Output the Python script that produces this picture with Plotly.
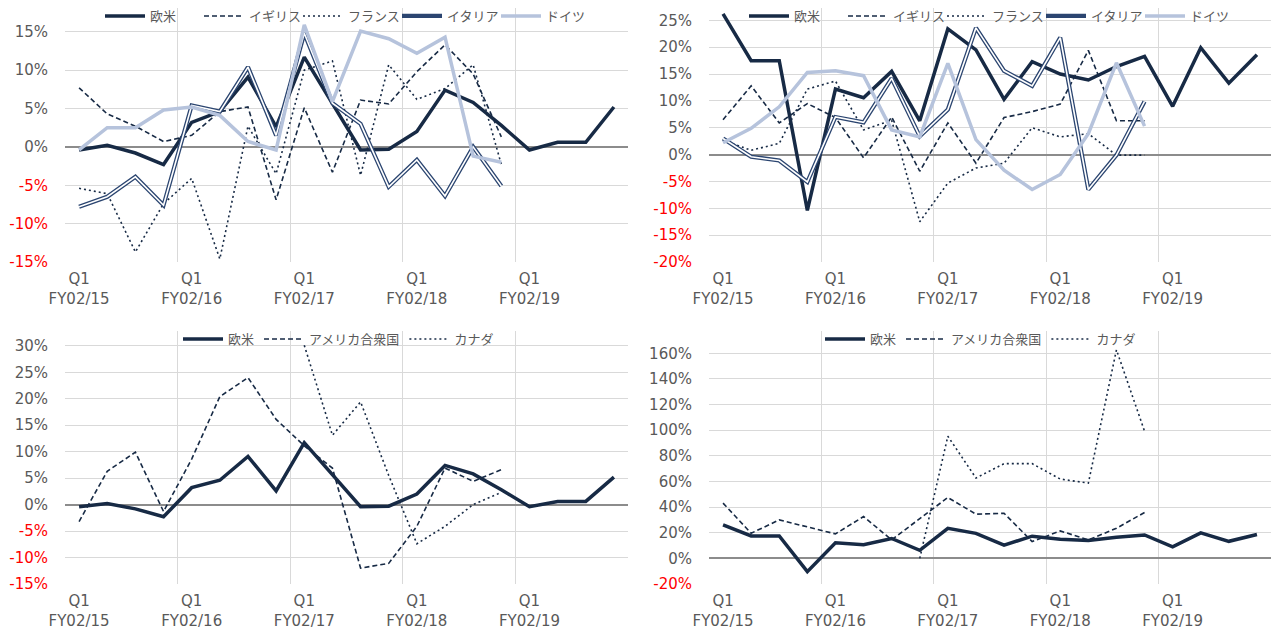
import plotly.graph_objects as go

# 四半期 (20 quarters, Q1 FY02/15 .. Q4 FY02/19)
quarters = list(range(20))
year_ticks = [0, 4, 8, 12, 16]
year_labels = ["Q1<br>FY02/15", "Q1<br>FY02/16", "Q1<br>FY02/17", "Q1<br>FY02/18", "Q1<br>FY02/19"]
N = None

# 左上: 欧州 (%)
ou_tl = [-0.4, 0.2, -0.8, -2.3, 3.2, 4.6, 9.1, 2.6, 11.7, 5.7, -0.4, -0.3, 2.0, 7.4, 5.8, 2.8, -0.4, 0.6, 0.6, 5.2]
uk_tl = [7.7, 4.3, 2.7, 0.7, 1.5, 4.6, 5.2, -6.9, 5.1, -3.3, 6.1, 5.6, 9.8, 13.3, 9.5, 1.3]
fr_tl = [-5.4, -6.1, -13.7, -7.4, -4.1, -14.6, 2.7, -3.5, 10.0, 11.2, -3.7, 10.7, 6.2, 7.6, 10.7, -2.3]
it_tl = [-7.8, -6.5, -3.9, -7.6, 5.4, 4.6, 10.4, 1.5, 14.8, 5.7, 3.0, -5.2, -1.7, -6.4, 0.0, -5.1]
de_tl = [-0.4, 2.5, 2.5, 4.8, 5.2, 4.1, 0.7, -0.4, 15.9, 5.9, 15.1, 14.1, 12.2, 14.3, -1.2, -2.0]

# 右上 (%)
ou_tr = [26.2, 17.5, 17.5, -10.4, 12.2, 10.6, 15.5, 6.3, 23.4, 19.5, 10.3, 17.3, 15.0, 13.9, 16.4, 18.3, 9.0, 19.9, 13.3, 18.6]
uk_tr = [6.5, 12.8, 5.9, 9.5, 6.9, -0.6, 7.0, -3.1, 5.9, -1.6, 6.9, 8.0, 9.4, 19.4, 6.3, 6.3]
fr_tr = [2.7, 0.8, 2.1, 12.2, 13.7, 4.6, 6.4, -12.5, -5.3, -2.5, -1.6, 5.0, 3.3, 3.9, -0.1, -0.1]
it_tr = [3.0, -0.4, -1.1, -5.1, 7.0, 6.0, 14.2, 3.4, 8.4, 23.6, 15.6, 12.8, 21.8, -6.5, -0.1, 9.9]
de_tr = [2.2, 4.9, 8.9, 15.3, 15.6, 14.7, 4.6, 3.3, 17.0, 2.8, -2.9, -6.5, -3.7, 3.9, 17.1, 5.3]

# 左下: 北米 (%)
us_bl = [-3.2, 6.3, 9.9, -1.3, 8.6, 20.4, 24.0, 16.1, 11.1, 6.9, -12.0, -11.1, -4.1, 6.9, 4.4, 6.6]
ca_bl = [N, N, N, N, N, N, N, N, 30.1, 13.1, 19.4, 5.5, -7.4, -4.1, 0.0, 2.3]

# 右下 (%)
us_br = [43.1, 19.6, 30.0, 24.8, 19.1, 32.6, 14.4, 31.0, 47.5, 34.5, 35.2, 13.1, 21.4, 14.4, 23.5, 35.8]
ca_br = [N, N, N, N, N, N, N, 0.0, 95.3, 62.7, 73.9, 73.9, 61.9, 58.7, 162.7, 99.2]

NAVY = "#172A45"
LIGHT = "#B6C3DC"
GRID = "#D9D9D9"
GRAY = "#595959"
FONT = "DejaVu Sans"
JP = "Noto Sans CJK JP"

fig = go.Figure()


def add(y, name, ax, lg, style):
    xa, ya = ax
    common = dict(x=quarters[:len(y)], y=y, xaxis=xa, yaxis=ya, legend=lg,
                  mode="lines", hoverinfo="skip", connectgaps=False)
    if style == "thick":
        fig.add_trace(go.Scatter(name=name, line=dict(color=NAVY, width=3.5), **common))
    elif style == "dash":
        fig.add_trace(go.Scatter(name=name, line=dict(color=NAVY, width=1.6, dash="5px,3px"), **common))
    elif style == "dot":
        fig.add_trace(go.Scatter(name=name, line=dict(color=NAVY, width=1.6, dash="2px,3px"), **common))
    elif style == "double":
        # 二重線: 太い紺 + 細い白
        fig.add_trace(go.Scatter(name=name, line=dict(color="#2B4570", width=4.2), **common))
        fig.add_trace(go.Scatter(name=name, showlegend=False, line=dict(color="white", width=1.6), **common))
    elif style == "light":
        fig.add_trace(go.Scatter(name=name, line=dict(color=LIGHT, width=3.5), **common))


# 左上
add(ou_tl, "欧米", ("x", "y"), "legend", "thick")
add(uk_tl, "イギリス", ("x", "y"), "legend", "dash")
add(fr_tl, "フランス", ("x", "y"), "legend", "dot")
add(it_tl, "イタリア", ("x", "y"), "legend", "double")
add(de_tl, "ドイツ", ("x", "y"), "legend", "light")
# 右上
add(ou_tr, "欧米", ("x2", "y2"), "legend2", "thick")
add(uk_tr, "イギリス", ("x2", "y2"), "legend2", "dash")
add(fr_tr, "フランス", ("x2", "y2"), "legend2", "dot")
add(it_tr, "イタリア", ("x2", "y2"), "legend2", "double")
add(de_tr, "ドイツ", ("x2", "y2"), "legend2", "light")
# 左下
add(ou_tl, "欧米", ("x3", "y3"), "legend3", "thick")
add(us_bl, "アメリカ合衆国", ("x3", "y3"), "legend3", "dash")
add(ca_bl, "カナダ", ("x3", "y3"), "legend3", "dot")
# 右下
add(ou_tr, "欧米", ("x4", "y4"), "legend4", "thick")
add(us_br, "アメリカ合衆国", ("x4", "y4"), "legend4", "dash")
add(ca_br, "カナダ", ("x4", "y4"), "legend4", "dot")

W, H = 1272, 633
left_dom = [65 / W, 628 / W]
right_dom = [709 / W, 1271 / W]
top_dom = [1 - 262 / H, 1 - 8 / H]
bot_dom = [1 - 584 / H, 1 - 331 / H]


def xaxis(dom, anchor):
    return dict(domain=dom, anchor=anchor, range=[-0.5, 19.5], automargin=False,
                tickmode="array", tickvals=year_ticks, ticktext=year_labels,
                showgrid=False, zeroline=False, showline=False, ticks="",
                ticklabelstandoff=6,
                tickfont=dict(family=FONT, size=15, color=GRAY),
                minor=dict(tickmode="array", tickvals=[-0.5, 3.5, 7.5, 11.5, 15.5, 19.5],
                           showgrid=True, gridcolor=GRID, gridwidth=1.3, ticks=""))


def yaxis(dom, anchor, rng, vals):
    text = [f"<span style='color:#FF0000'>{v}%</span>" if v < 0 else f"{v}%" for v in vals]
    return dict(domain=dom, anchor=anchor, range=rng, tickmode="array", automargin=False,
                tickvals=vals, ticktext=text, showgrid=True, gridcolor=GRID, gridwidth=1.3,
                zeroline=True, zerolinecolor="#8C8C8C", zerolinewidth=1.5,
                showline=False, ticks="", ticklabelstandoff=16,
                tickfont=dict(family=FONT, size=15, color=GRAY))


def legend(x, yc, ew=0):
    return dict(orientation="h", x=x / W, y=1 - yc / H, xanchor="left", yanchor="middle",
                bgcolor="rgba(0,0,0,0)", font=dict(family=JP, size=13, color=GRAY),
                itemwidth=40, tracegroupgap=0, entrywidth=ew, entrywidthmode="pixels")


fig.update_layout(
    width=W, height=H,
    margin=dict(l=0, r=0, t=0, b=0, autoexpand=False),
    paper_bgcolor="white", plot_bgcolor="white",
    xaxis=xaxis(left_dom, "y"),
    yaxis=yaxis(top_dom, "x", [-15, 18.1], list(range(-15, 16, 5))),
    xaxis2=xaxis(right_dom, "y2"),
    yaxis2=yaxis(top_dom, "x2", [-20, 27.3], list(range(-20, 26, 5))),
    xaxis3=xaxis(left_dom, "y3"),
    yaxis3=yaxis(bot_dom, "x3", [-15, 32.8], list(range(-15, 31, 5))),
    xaxis4=xaxis(right_dom, "y4"),
    yaxis4=yaxis(bot_dom, "x4", [-20, 177.4], list(range(-20, 161, 20))),
    legend=legend(100, 16, 44),
    legend2=legend(744, 16, 44),
    legend3=legend(178, 339),
    legend4=legend(820, 339),
    showlegend=True,
)

fig.write_html("out.html", config={"displayModeBar": False},
               post_script="document.body.style.margin='0';")
